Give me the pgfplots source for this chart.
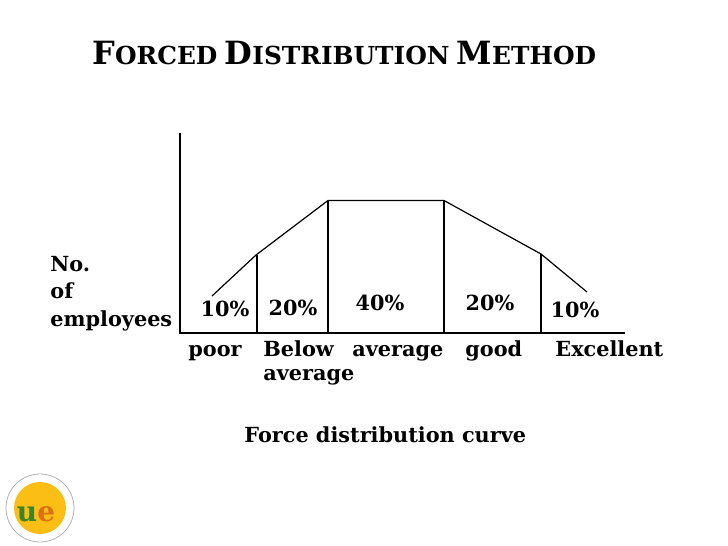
\documentclass[border=0pt]{standalone}
\usepackage{pgfplots}
\pgfplotsset{compat=1.18}
\usepackage{fontspec}
\setmainfont{DejaVu Serif}
\definecolor{logoY}{RGB}{250,190,20}
\definecolor{logoG}{RGB}{60,130,40}
\definecolor{logoO}{RGB}{220,110,20}
\newcommand{\tc}[2]{{\fontsize{16}{17}\selectfont #1}{\fontsize{12.4}{14}\selectfont #2}}
\begin{document}
\begin{tikzpicture}
\begin{axis}[width=364pt,height=273pt,scale only axis,
  xmin=0,xmax=728,ymin=0,ymax=546,y dir=reverse,hide axis,clip=false]
\addplot[draw=none] coordinates {(0,0)(728,546)};
% axes
\addplot[black,line width=0.6pt] coordinates {(180,133)(180,333)(625,333)};
% curve
\addplot[black,line width=0.6pt] coordinates {(212,296)(256,255)(328,200.5)(444,200.5)(541,254)(587,292)};
% dividers
\addplot[black,line width=0.6pt] coordinates {(257,255)(257,333)};
\addplot[black,line width=0.6pt] coordinates {(328,200.5)(328,333)};
\addplot[black,line width=0.6pt] coordinates {(444,200.5)(444,333)};
\addplot[black,line width=0.6pt] coordinates {(541,254)(541,333)};
\begin{scope}[every node/.style={inner sep=0pt,font=\bfseries\fontsize{10.4}{12}\selectfont}]
\node[anchor=base] at (axis cs:225,316) {10\%};
\node[anchor=base] at (axis cs:293,315) {20\%};
\node[anchor=base] at (axis cs:380,310) {40\%};
\node[anchor=base] at (axis cs:490,310) {20\%};
\node[anchor=base] at (axis cs:575,317) {10\%};
\node[anchor=base west] at (axis cs:50,271) {No.};
\node[anchor=base west] at (axis cs:50,298) {of};
\node[anchor=base west] at (axis cs:50,326) {employees};
\node[anchor=base west] at (axis cs:188,356) {poor};
\node[anchor=base west] at (axis cs:263,356) {Below};
\node[anchor=base west] at (axis cs:352,356) {average};
\node[anchor=base west] at (axis cs:465,356) {good};
\node[anchor=base west] at (axis cs:555,356) {Excellent};
\node[anchor=base west] at (axis cs:263,380) {average};
\node[anchor=base west] at (axis cs:244,442) {Force distribution curve};
\node[anchor=base west] at (axis cs:92,64) {\tc{F}{ORCED} \tc{D}{ISTRIBUTION} \tc{M}{ETHOD}};
\end{scope}
% logo
\fill[logoY] (axis cs:40,508) circle[radius=13pt];
\draw[gray!60,line width=0.4pt] (axis cs:40,508) circle[radius=17pt];
\node[font=\bfseries\fontsize{14}{14}\selectfont,inner sep=0pt] at (axis cs:36,514) {\textcolor{logoG}{u}\textcolor{logoO}{e}};
\end{axis}
\end{tikzpicture}
\end{document}
